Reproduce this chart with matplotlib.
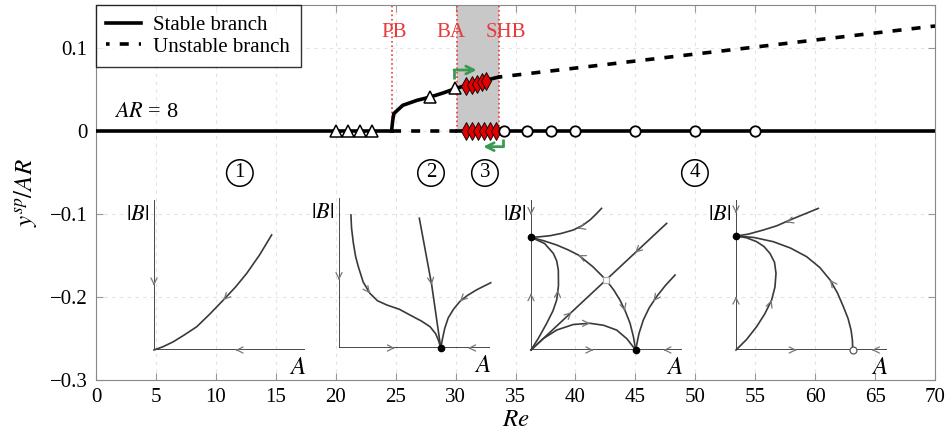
import numpy as np
import matplotlib
matplotlib.use('Agg')
import matplotlib.pyplot as plt

plt.rcParams['font.family'] = 'serif'
plt.rcParams['font.serif'] = ['Liberation Serif', 'Times New Roman', 'DejaVu Serif']
plt.rcParams['mathtext.fontset'] = 'stix'

# Main bifurcation diagram data (Re, y_sp/AR)
pb_re = 24.66
ba_re = 30.1
shb_re = 33.6

lower_stable_re = [0, pb_re]
lower_unstable_re = [pb_re, ba_re]
lower_stable2_re = [ba_re, 70]

upper_stable_re = [24.66, 24.75, 24.85, 25.6, 26.8, 27.9, 29.0, 29.95, 30.9, 32.2, 33.6]
upper_stable_y = [0.0, 0.012, 0.021, 0.031, 0.037, 0.041, 0.046, 0.051, 0.055, 0.060, 0.065]
upper_unstable_re = [33.6, 70]
upper_unstable_y = [0.065, 0.1265]

tri_re = [20, 21, 22, 23, 27.9, 29.95]
tri_y = [0, 0, 0, 0, 0.041, 0.052]
diam_low_re = [30.9, 31.4, 31.9, 32.4, 32.9, 33.4]
diam_up_re = [30.87, 31.34, 31.76, 32.18, 32.54]
diam_up_y = [0.054, 0.056, 0.057, 0.059, 0.060]
circ_re = [34, 36, 38, 40, 45, 50, 55]

region_labels = ['1', '2', '3', '4']
region_re = [12.0, 27.95, 32.45, 49.97]
region_y = -0.0506

green_up_re = [29.87, 29.87, 31.76]
green_up_y = [0.0623, 0.0735, 0.0735]
green_dn_re = [33.98, 33.98, 32.31]
green_dn_y = [-0.010, -0.0189, -0.0189]

x_ticks = list(range(0, 71, 5))
y_ticks = [-0.3, -0.2, -0.1, 0, 0.1]
y_ticklabels = ['\u22120.3', '\u22120.2', '\u22120.1', '0', '0.1']

# Phase portraits: curves in local (A, |B|) coordinates of each inset
p1_curves = [
    [(0, 0), (0.06, 0.022), (0.128, 0.055), (0.2, 0.1), (0.283, 0.155), (0.37, 0.24),
     (0.459, 0.333), (0.54, 0.42), (0.614, 0.511), (0.7, 0.635), (0.779, 0.767)],
]
p1_arrows = [(0, 0.43, 0, -1), (0.54, 0, -1, 0), (0.459, 0.333, -0.7, -0.72)]
p1_nodes = []

p2_curves = [
    [(0.079, 0.887), (0.083, 0.8), (0.095, 0.7), (0.11, 0.61), (0.128, 0.542), (0.16, 0.44),
     (0.205, 0.364), (0.255, 0.315), (0.316, 0.287), (0.4, 0.258), (0.47, 0.22), (0.545, 0.18),
     (0.603, 0.142), (0.64, 0.095), (0.658, 0.053), (0.674, 0)],
    [(0.532, 0.865), (0.614, 0.42), (0.674, 0)],
    [(1.005, 0.435), (0.955, 0.41), (0.91, 0.387), (0.85, 0.35), (0.801, 0.311), (0.758, 0.258),
     (0.723, 0.2), (0.7, 0.13), (0.685, 0.06), (0.674, 0)],
]
p2_arrows = [(0, 0.453, 0, -1), (0.37, 0, 1, 0), (0.855, 0, -1, 0),
             (0.205, 0.364, 0.6, -0.8), (0.614, 0.42, 0.15, -1), (0.801, 0.311, -0.7, -0.7)]
p2_nodes = [(0.674, 0, 'k')]

p3_curves = [
    [(0.467, 0.944), (0.43, 0.905), (0.391, 0.867), (0.34, 0.83), (0.28, 0.8), (0.2, 0.777),
     (0.126, 0.762), (0.06, 0.755), (0, 0.751)],
    [(0, 0.751), (0.085, 0.728), (0.17, 0.7), (0.245, 0.668), (0.314, 0.633), (0.41, 0.555),
     (0.497, 0.467), (0.548, 0.4), (0.589, 0.333), (0.626, 0.255), (0.656, 0.178), (0.678, 0.09),
     (0.693, 0)],
    [(0, 0), (0.898, 0.844)],
    [(0, 0), (0.05, 0.08), (0.104, 0.178), (0.145, 0.26), (0.17, 0.333), (0.182, 0.43),
     (0.181, 0.533), (0.17, 0.595), (0.148, 0.644), (0.09, 0.71), (0, 0.751)],
    [(0, 0), (0.08, 0.075), (0.17, 0.133), (0.28, 0.17), (0.391, 0.178), (0.48, 0.165),
     (0.567, 0.133), (0.635, 0.075), (0.693, 0)],
    [(0.954, 0.5), (0.89, 0.43), (0.832, 0.356), (0.782, 0.28), (0.744, 0.2), (0.715, 0.11),
     (0.693, 0)],
]
p3_arrows = [(0, 0.9, 0, -1), (0, 0.378, 0, 1), (0.413, 0, 1, 0), (0.877, 0, -1, 0),
             (0.31, 0.81, -1, -0.3), (0.314, 0.633, -1, 0.5), (0.623, 0.26, 0.3, -1),
             (0.269, 0.253, 1, 0.94), (0.689, 0.648, -1, -0.94), (0.178, 0.4, 0.05, 1),
             (0.391, 0.178, 1, 0), (0.81, 0.325, -0.6, -0.8)]
p3_nodes = [(0, 0.751, 'k'), (0.693, 0, 'k'), (0.497, 0.467, 'sq')]

p4_curves = [
    [(0.545, 0.944), (0.45, 0.905), (0.358, 0.867), (0.27, 0.828), (0.181, 0.8), (0.08, 0.772),
     (0, 0.76)],
    [(0, 0.76), (0.12, 0.75), (0.247, 0.722), (0.36, 0.68), (0.468, 0.622), (0.555, 0.55),
     (0.623, 0.467), (0.672, 0.38), (0.711, 0.289), (0.742, 0.21), (0.762, 0.133), (0.771, 0.065),
     (0.773, 0)],
    [(0, 0), (0.07, 0.07), (0.137, 0.156), (0.19, 0.24), (0.236, 0.333), (0.258, 0.42),
     (0.265, 0.511), (0.255, 0.585), (0.225, 0.644), (0.185, 0.69), (0.137, 0.722), (0.07, 0.748),
     (0, 0.76)],
]
p4_arrows = [(0, 0.911, 0, -1), (0, 0.356, 0, 1), (0.402, 0, 1, 0), (0.9, 0, -1, 0),
             (0.331, 0.85, -1, -0.35), (0.623, 0.467, -0.6, 0.8), (0.236, 0.333, 0.35, 1)]
p4_nodes = [(0, 0.76, 'k'), (0.773, 0, 'o')]

portraits = [(154, 350, p1_curves, p1_arrows, p1_nodes),
             (339, 348, p2_curves, p2_arrows, p2_nodes),
             (531, 350, p3_curves, p3_arrows, p3_nodes),
             (736, 350, p4_curves, p4_arrows, p4_nodes)]

W, H = 951, 438
fig = plt.figure(figsize=(W / 100, H / 100), dpi=100)
ax = fig.add_axes([96 / W, 1 - 380 / H, 839 / W, 375 / H])

ax.set_xlim(0, 70)
ax.set_ylim(-0.3, 0.1518)
ax.set_xticks(x_ticks)
ax.set_yticks(y_ticks)
ax.set_yticklabels(y_ticklabels)
ax.tick_params(direction='in', top=True, right=True, labelsize=15, pad=6, length=5, color='#999999')
for s in ax.spines.values():
    s.set_color('#888888')
ax.grid(True, ls=(0, (3, 4)), color='#e3e3e3', lw=0.8)
ax.set_axisbelow(True)

ax.set_xlabel(r'$Re$', fontsize=18, labelpad=1)
ax.set_ylabel(r'$y^{sp}/AR$', fontsize=18, labelpad=8)

# shaded region and bifurcation markers
ax.fill_between([ba_re, shb_re], [0, 0], [0.1518, 0.1518], color='#c8c8c8', lw=0, zorder=1)
red = '#e8393c'
for xr, lab, dx in [(pb_re, 'PB', 0.2), (ba_re, 'BA', -0.5), (shb_re, 'SHB', 0.6)]:
    ax.plot([xr, xr], [0, 0.1518], ls=':', color=red, lw=1.2, zorder=2)
    ax.text(xr + dx, 0.119, lab, color=red, fontsize=15, ha='center', va='center', zorder=5)

lw = 2.6
ax.plot(lower_stable_re, [0, 0], color='k', lw=lw, zorder=3, label='Stable branch')
ax.plot(lower_unstable_re, [0, 0], color='k', lw=lw, ls=(0, (2.5, 2.8)), zorder=3)
ax.plot(lower_stable2_re, [0, 0], color='k', lw=lw, zorder=3)
ax.plot(upper_stable_re, upper_stable_y, color='k', lw=lw, zorder=3)
ax.plot(upper_unstable_re, upper_unstable_y, color='k', lw=lw, ls=(1.5, (2.5, 2.8)), zorder=3,
        label='Unstable branch')

ax.plot(tri_re, tri_y, ls='none', marker='^', ms=8, mfc='white', mec='k', mew=1.1, zorder=4)
ax.plot(diam_low_re, [0] * len(diam_low_re), ls='none', marker='d', ms=9, mfc='#e00000', mec='k',
        mew=0.6, zorder=4)
ax.plot(diam_up_re, diam_up_y, ls='none', marker='d', ms=9, mfc='#e00000', mec='k', mew=0.6, zorder=4)
ax.plot(circ_re, [0] * len(circ_re), ls='none', marker='o', ms=7.5, mfc='white', mec='k', mew=1.3,
        zorder=4)

green = '#3a9a52'
for gx, gy in [(green_up_re, green_up_y), (green_dn_re, green_dn_y)]:
    ax.plot(gx[:2], gy[:2], color=green, lw=2, zorder=5, solid_capstyle='butt')
    ax.annotate('', xy=(gx[2], gy[2]), xytext=(gx[1], gy[1]),
                arrowprops=dict(arrowstyle='->', color=green, lw=2, shrinkA=0, shrinkB=0,
                                mutation_scale=14), zorder=5)

for lab, rx in zip(region_labels, region_re):
    ax.text(rx, region_y, lab, fontsize=15, ha='center', va='center',
            bbox=dict(boxstyle='circle,pad=0.18', fc='white', ec='k', lw=1.1), zorder=5)

ax.text(1.5, 0.022, r'$AR$ = 8', fontsize=16, ha='left', va='center')

leg = ax.legend(loc='upper left', fontsize=15, frameon=True, fancybox=False, borderaxespad=0,
                handlelength=1.65, borderpad=0.5, labelspacing=0.1, handletextpad=0.6)
leg.get_frame().set_edgecolor('k')
leg.get_frame().set_linewidth(1.0)

# phase portrait insets
gcol = '#3a3a3a'
for ox, oy, curves, arrows, nodes in portraits:
    iax = fig.add_axes([ox / W, 1 - oy / H, 151 / W, 150 / H])
    iax.set_xlim(0, 1)
    iax.set_ylim(0, 1)
    iax.axis('off')
    iax.plot([0, 0], [0, 1], color=gcol, lw=1.3)
    iax.plot([0, 1], [0, 0], color=gcol, lw=1.3)
    for c in curves:
        cu, cv = zip(*c)
        iax.plot(cu, cv, color=gcol, lw=1.2, clip_on=False, solid_joinstyle='round')
    for u, v, du, dv in arrows:
        n = np.hypot(du, dv)
        iax.annotate('', xy=(u, v), xytext=(u - 0.01 * du / n, v - 0.01 * dv / n),
                     arrowprops=dict(arrowstyle='->', color='#777777', lw=0.9, shrinkA=0, shrinkB=0,
                                     mutation_scale=11))
    for u, v, kind in nodes:
        if kind == 'k':
            iax.plot(u, v, 'o', ms=4.5, color='k', clip_on=False, zorder=5)
        elif kind == 'o':
            iax.plot(u, v, 'o', ms=5, mfc='white', mec='#555555', mew=0.9, clip_on=False, zorder=5)
        else:
            iax.plot(u, v, 's', ms=5, mfc='white', mec='#aaaaaa', mew=0.9, clip_on=False, zorder=5)
    iax.text(-0.11, 0.9, r'$|B|$', fontsize=16, ha='center', va='center')
    iax.text(0.95, -0.12, r'$A$', fontsize=18, ha='center', va='center')

fig.savefig('out.png', dpi=100)
